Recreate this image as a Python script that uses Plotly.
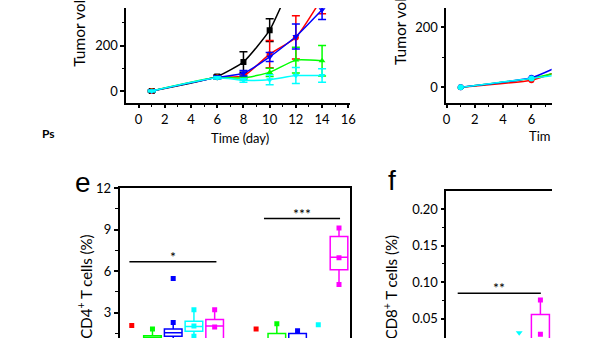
import plotly.graph_objects as go

W, H = 600, 338
def px(x): return x / W
def py(y): return 1 - y / H

# ---------- top-left tumour growth ----------
days = [1, 6, 8, 10, 12, 14]
tl_black = [0, 64, 128, 268, 520, 760]
tl_black_err = [3, 6, 45, 50, 60, 80]
tl_red = [0, 60, 66, 162, 236, 410]
tl_red_err = [3, 6, 10, 60, 95, 70]
tl_green = [0, 60, 57, 82, 136, 133]
tl_green_err = [3, 5, 8, 18, 57, 67]
tl_blue = [0, 60, 78, 150, 240, 358]
tl_blue_err = [3, 6, 12, 20, 55, 43]
tl_cyan = [0, 58, 47, 50, 68, 68]
tl_cyan_err = [3, 5, 8, 22, 35, 30]
tl_xticks = [0, 2, 4, 6, 8, 10, 12, 14, 16]
tl_xminor = [1, 3, 5, 7, 9, 11, 13, 15]
tl_yticks = [0, 200]
tl_yminor = [100, 300]

# ---------- top-right tumour growth (visible part) ----------
days_r = [1, 6, 8]
tr_red = [0, 24, 55]
tr_green = [0, 30, 52]
tr_blue = [0, 32, 72]
tr_cyan = [0, 30, 42]
tr_xticks = [0, 2, 4, 6]
tr_xminor = [1, 3, 5, 7]
tr_yticks = [0, 200]
tr_yminor = [100]

# ---------- panel e (CD4+) ----------
e_box_pos = [2, 3, 4, 5, 8, 9, 11]
e_box_col = ["#00FF00", "#0000FF", "#00FFFF", "#FF00FF", "#00FF00", "#0000FF", "#FF00FF"]
e_q1 = [0.9, 1.29, 1.66, 0.9, 0.8, 0.8, 6.09]
e_med = [1.2, 1.55, 2.0, 2.03, 1.0, 1.1, 7.0]
e_q3 = [1.34, 1.82, 2.37, 2.5, 1.49, 1.5, 8.5]
e_lf = [0.6, 0.9, 1.3, 0.6, 0.5, 0.6, 5.03]
e_uf = [1.82, 2.29, 3.21, 3.21, 2.2, 1.7, 9.1]
e_mean_pos = [4, 5, 11]
e_mean_val = [2.03, 1.96, 6.96]
e_mean_col = ["#00FFFF", "#FF00FF", "#FF00FF"]
e_pt_pos = [1, 7, 10, 3]
e_pt_val = [2.08, 1.82, 2.13, 5.46]
e_pt_col = ["#FF0000", "#FF0000", "#00FFFF", "#0000FF"]
e_sig = [(0.886, 5.085, 6.68, "*"), (7.38, 11.05, 9.79, "***")]
e_yticks = [3, 6, 9, 12]
e_yminor = [1.5, 4.5, 7.5, 10.5]

# ---------- panel f (CD8+) ----------
f_box_pos = [5]
f_q1 = [0.01]
f_med = [0.015]
f_q3 = [0.0557]
f_lf = [0.005]
f_uf = [0.0758]
f_mean_pos = [5]
f_mean_val = [0.029]
f_pt_pos = [4]
f_pt_val = [0.0308]
f_sig = [(1.10, 5.02, 0.0848, "**")]
f_yticks = [0.05, 0.10, 0.15, 0.20]
f_yticktext = ["0.05", "0.10", "0.15", "0.20"]
f_yminor = [0.075, 0.125, 0.175]

FONT = "Lato"
fig = go.Figure()

def line_series(x, y, err, color, symbol, xa, ya):
    fig.add_trace(go.Scatter(
        x=x, y=y, mode="lines+markers", xaxis=xa, yaxis=ya,
        line=dict(color=color, width=1.5, shape="spline", smoothing=0.5),
        marker=dict(symbol=symbol, size=6, color=color),
        error_y=None if err is None else dict(type="data", array=err, visible=True,
                                               color=color, thickness=1.5, width=4),
        showlegend=False, cliponaxis=True))

line_series(days, tl_black, tl_black_err, "#000000", "square", "x", "y")
line_series(days, tl_red, tl_red_err, "#FF0000", "circle", "x", "y")
line_series(days, tl_green, tl_green_err, "#00FF00", "triangle-up", "x", "y")
line_series(days, tl_blue, tl_blue_err, "#0000FF", "triangle-down", "x", "y")
line_series(days, tl_cyan, tl_cyan_err, "#00FFFF", "triangle-down", "x", "y")

line_series(days_r, tr_red, None, "#FF0000", "circle", "x2", "y2")
line_series(days_r, tr_green, None, "#00FF00", "triangle-up", "x2", "y2")
line_series(days_r, tr_blue, None, "#0000FF", "circle", "x2", "y2")
line_series(days_r, tr_cyan, None, "#00FFFF", "circle", "x2", "y2")

def boxes(pos, q1, med, q3, lf, uf, cols, xa, ya):
    for i in range(len(pos)):
        fig.add_trace(go.Box(
            x=[pos[i]], q1=[q1[i]], median=[med[i]], q3=[q3[i]],
            lowerfence=[lf[i]], upperfence=[uf[i]], xaxis=xa, yaxis=ya,
            width=0.85, whiskerwidth=0, boxpoints=False,
            line=dict(color=cols[i], width=1.5), fillcolor="rgba(0,0,0,0)",
            showlegend=False))
        fig.add_trace(go.Scatter(
            x=[pos[i], pos[i]], y=[lf[i], uf[i]], mode="markers", xaxis=xa, yaxis=ya,
            marker=dict(symbol="square", size=5, color=cols[i]), showlegend=False))

boxes(e_box_pos, e_q1, e_med, e_q3, e_lf, e_uf, e_box_col, "x3", "y3")
fig.add_trace(go.Scatter(x=e_mean_pos, y=e_mean_val, mode="markers", xaxis="x3", yaxis="y3",
                         marker=dict(symbol="square", size=5, color=e_mean_col), showlegend=False))
fig.add_trace(go.Scatter(x=e_pt_pos, y=e_pt_val, mode="markers", xaxis="x3", yaxis="y3",
                         marker=dict(symbol="square", size=5, color=e_pt_col), showlegend=False))

boxes(f_box_pos, f_q1, f_med, f_q3, f_lf, f_uf, ["#FF00FF"], "x4", "y4")
fig.add_trace(go.Scatter(x=f_mean_pos, y=f_mean_val, mode="markers", xaxis="x4", yaxis="y4",
                         marker=dict(symbol="square", size=5, color="#FF00FF"), showlegend=False))
fig.add_trace(go.Scatter(x=f_pt_pos, y=f_pt_val, mode="markers", xaxis="x4", yaxis="y4",
                         marker=dict(symbol="triangle-down", size=6, color="#00FFFF"), showlegend=False))

shapes, annos = [], []
for (x0, x1, yv, t) in e_sig:
    shapes.append(dict(type="line", xref="x3", yref="y3", x0=x0, x1=x1, y0=yv, y1=yv,
                       line=dict(color="black", width=1.5)))
    annos.append(dict(xref="x3", yref="y3", x=(x0 + x1) / 2, y=yv, text=t, showarrow=False,
                      yanchor="bottom", yshift=-5, font=dict(size=14, color="black", family=FONT)))
for (x0, x1, yv, t) in f_sig:
    shapes.append(dict(type="line", xref="x4", yref="y4", x0=x0, x1=x1, y0=yv, y1=yv,
                       line=dict(color="black", width=1.5)))
    annos.append(dict(xref="x4", yref="y4", x=(x0 + x1) / 2, y=yv, text=t, showarrow=False,
                      yanchor="bottom", yshift=-5, font=dict(size=14, color="black", family=FONT)))

def txt(x, y, t, size=13, angle=0, xa="center", ya="middle", family=FONT):
    annos.append(dict(xref="paper", yref="paper", x=px(x), y=py(y), text=t, showarrow=False,
                      textangle=angle, xanchor=xa, yanchor=ya,
                      font=dict(size=size, color="black", family=family)))

txt(76.3, 62, "Tumor volume (mm<sup>3</sup>)", 15.5, -90, ya="bottom")
txt(402.5, 60, "Tumor volume (mm<sup>3</sup>)", 15.5, -90, ya="bottom")
txt(240.5, 133, "Time (day)", 13)
txt(532, 131, "Tim", 13, xa="left")
txt(46.7, 128.3, "<b>Ps</b>", 12)
txt(81.7, 178.5, "e", 28, family="Liberation Sans")
txt(395, 177, "f", 28, family="Liberation Sans")
txt(82.7, 285, "CD4<sup>+</sup> T cells (%)", 15, -90)
txt(393, 286, "CD8<sup>+</sup> T cells (%)", 15, -90)

ax_common = dict(showgrid=False, zeroline=False, showline=True, linecolor="black", linewidth=1.5,
                 ticks="outside", ticklen=4, tickwidth=1.5, tickcolor="black",
                 tickfont=dict(size=13, color="black", family=FONT))
def minor(vals):
    return dict(tickvals=vals, ticks="outside", ticklen=2.5, tickwidth=1.2, tickcolor="black")

top_dom = [py(97), 1]
fig.update_layout(
    width=W, height=H, margin=dict(l=0, r=0, t=0, b=0),
    paper_bgcolor="white", plot_bgcolor="white", showlegend=False,
    xaxis=dict(domain=[px(125), px(352)], range=[-0.955, 16.11], anchor="y",
               tickvals=tl_xticks, minor=minor(tl_xminor), **ax_common),
    yaxis=dict(domain=top_dom, range=[-51.6, 365.6], anchor="x", tickvals=tl_yticks,
               minor=minor(tl_yminor), **ax_common),
    xaxis2=dict(domain=[px(450), px(557)], range=[-0.02, 7.43], anchor="y2",
                tickvals=tr_xticks, minor=minor(tr_xminor), **ax_common),
    yaxis2=dict(domain=top_dom, range=[-51.2, 265], anchor="x2", tickvals=tr_yticks,
                minor=minor(tr_yminor), **ax_common),
    xaxis3=dict(domain=[px(118.3), px(352.7)], range=[0.41, 11.55], anchor="y3", side="top",
                showgrid=False, zeroline=False, showline=True, linecolor="black", linewidth=1.5,
                ticks="", showticklabels=False),
    yaxis3=dict(domain=[0, py(184.3)], range=[1.17, 12], anchor="x3", mirror=True,
                tickvals=e_yticks, minor=minor(e_yminor), **ax_common),
    xaxis4=dict(domain=[px(450), px(557)], range=[0.56, 5.53], anchor="y4", side="top",
                showgrid=False, zeroline=False, showline=True, linecolor="black", linewidth=1.5,
                ticks="", showticklabels=False),
    yaxis4=dict(domain=[0, py(187.7)], range=[0.0237, 0.2244], anchor="x4",
                tickvals=f_yticks, ticktext=f_yticktext, minor=minor(f_yminor), **ax_common),
    shapes=shapes, annotations=annos,
)

fig.write_html("out.html")
